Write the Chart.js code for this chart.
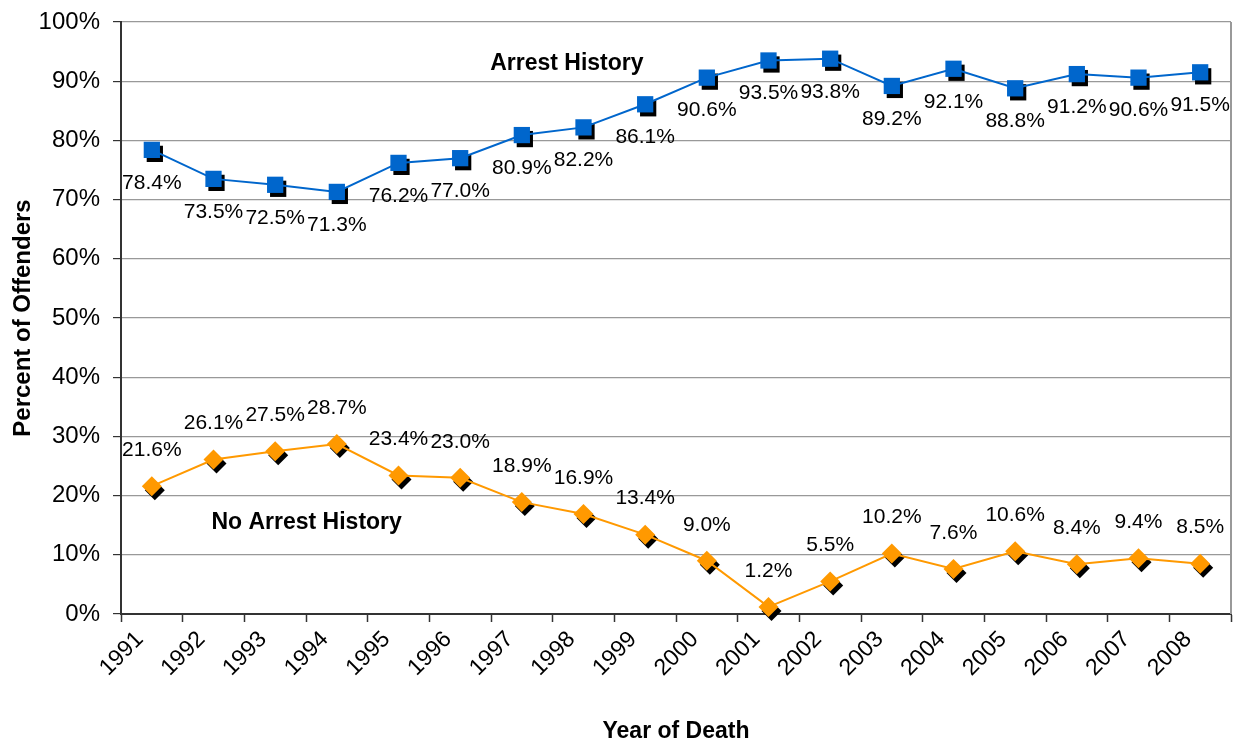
<!DOCTYPE html>
<html>
<head>
<meta charset="utf-8">
<title>Arrest History</title>
<script src="https://cdn.jsdelivr.net/npm/chart.js@4/dist/chart.umd.min.js"></script>
<style>
  body { margin: 0; background: #fff; }
</style>
</head>
<body>
<canvas id="grafico" width="1233" height="743"></canvas>
<script>
// Dados do grafico
const anos = ['1991', '1992', '1993', '1994', '1995', '1996', '1997', '1998', '1999',
              '2000', '2001', '2002', '2003', '2004', '2005', '2006', '2007', '2008'];
const comHistorico = [78.4, 73.5, 72.5, 71.3, 76.2, 77.0, 80.9, 82.2, 86.1,
                      90.6, 93.5, 93.8, 89.2, 92.1, 88.8, 91.2, 90.6, 91.5];
const semHistorico = [21.6, 26.1, 27.5, 28.7, 23.4, 23.0, 18.9, 16.9, 13.4,
                      9.0, 1.2, 5.5, 10.2, 7.6, 10.6, 8.4, 9.4, 8.5];
const nomesSeries = ['Arrest History', 'No Arrest History'];
// posicao dos nomes das series (indice da categoria, valor em %)
const nomesX = [6.73, 2.51];
const nomesY = [92.9, 15.4];
const ticksY = [0, 10, 20, 30, 40, 50, 60, 70, 80, 90, 100];

const fonte = '"Liberation Sans", Arial, sans-serif';

// Sombras pretas atras dos marcadores
const sombras = {
    id: 'sombras',
    beforeDatasetsDraw(chart) {
        const ctx = chart.ctx;
        ctx.save();
        ctx.fillStyle = '#000';
        chart.data.datasets.forEach((ds, i) => {
            chart.getDatasetMeta(i).data.forEach(pt => {
                const x = pt.x + 3;
                const y = pt.y + 4;
                const r = ds.pointRadius;
                ctx.beginPath();
                if (ds.pointStyle === 'rect') {
                    const s = r * Math.SQRT1_2;
                    ctx.rect(x - s, y - s, 2 * s, 2 * s);
                } else {
                    ctx.moveTo(x, y - r);
                    ctx.lineTo(x + r, y);
                    ctx.lineTo(x, y + r);
                    ctx.lineTo(x - r, y);
                    ctx.closePath();
                }
                ctx.fill();
            });
        });
        ctx.restore();
    }
};

// Rotulos de valores e nomes das series
const rotulos = {
    id: 'rotulos',
    afterDatasetsDraw(chart) {
        const ctx = chart.ctx;
        const area = chart.chartArea;
        ctx.save();

        // borda direita da area do grafico
        ctx.strokeStyle = '#999';
        ctx.lineWidth = 2;
        ctx.beginPath();
        ctx.moveTo(area.right, area.top);
        ctx.lineTo(area.right, area.bottom);
        ctx.stroke();

        ctx.fillStyle = '#000';
        ctx.textAlign = 'center';
        ctx.textBaseline = 'middle';
        ctx.font = '21px ' + fonte;
        chart.data.datasets.forEach((ds, i) => {
            chart.getDatasetMeta(i).data.forEach((pt, j) => {
                ctx.fillText(ds.data[j].toFixed(1) + '%', pt.x, pt.y + ds.deslocRotulo);
            });
        });

        ctx.font = 'bold 23px ' + fonte;
        nomesSeries.forEach((nome, i) => {
            ctx.fillText(nome, chart.scales.x.getPixelForValue(nomesX[i]), chart.scales.y.getPixelForValue(nomesY[i]));
        });
        ctx.restore();
    }
};

const config = {
    type: 'line',
    data: {
        labels: anos,
        datasets: [
            {
                label: nomesSeries[0],
                data: comHistorico,
                borderColor: '#0066CC',
                backgroundColor: '#0066CC',
                borderWidth: 2,
                pointStyle: 'rect',
                pointRadius: 11.5,
                pointBorderWidth: 0,
                deslocRotulo: 33,
                clip: false
            },
            {
                label: nomesSeries[1],
                data: semHistorico,
                borderColor: '#FF9900',
                backgroundColor: '#FF9900',
                borderWidth: 2,
                pointStyle: 'rectRot',
                pointRadius: 10,
                pointBorderWidth: 0,
                deslocRotulo: -36,
                clip: false
            }
        ]
    },
    options: {
        responsive: false,
        animation: false,
        layout: {
            autoPadding: false,
            padding: { top: 22, right: 2, left: 0, bottom: 0 }
        },
        plugins: {
            legend: { display: false },
            tooltip: { enabled: false }
        },
        scales: {
            x: {
                offset: true,
                grid: {
                    offset: true,
                    drawOnChartArea: false,
                    tickLength: 8,
                    tickColor: '#333',
                    tickWidth: 1.5
                },
                border: { color: '#333', width: 2 },
                ticks: {
                    color: '#000',
                    font: { family: fonte, size: 23 },
                    minRotation: 45,
                    maxRotation: 45,
                    labelOffset: -12,
                    padding: 4,
                    autoSkip: false
                },
                title: {
                    display: true,
                    text: 'Year of Death',
                    color: '#000',
                    font: { family: fonte, size: 23, weight: 'bold', lineHeight: 1 },
                    padding: { top: 0, bottom: 0 }
                },
                afterFit(escala) {
                    escala.height = 129;
                    escala.paddingLeft = 0;
                    escala.paddingRight = 0;
                }
            },
            y: {
                min: 0,
                max: 100,
                afterBuildTicks(escala) { escala.ticks = ticksY.map(v => ({ value: v })); },
                grid: {
                    color: '#999',
                    lineWidth: 1.2,
                    tickLength: 8,
                    tickColor: '#333'
                },
                border: { color: '#333', width: 2 },
                ticks: {
                    color: '#000',
                    font: { family: fonte, size: 24 },
                    padding: 13,
                    callback: v => v + '%'
                },
                title: {
                    display: true,
                    text: 'Percent of Offenders',
                    color: '#000',
                    font: { family: fonte, size: 24, weight: 'bold' },
                    padding: { top: 9, bottom: 0 }
                },
                afterFit(escala) {
                    escala.width = 121;
                    escala.paddingTop = 0;
                    escala.paddingBottom = 0;
                }
            }
        }
    },
    plugins: [sombras, rotulos]
};

const meuGrafico = new Chart(document.getElementById('grafico'), config);
</script>
</body>
</html>
